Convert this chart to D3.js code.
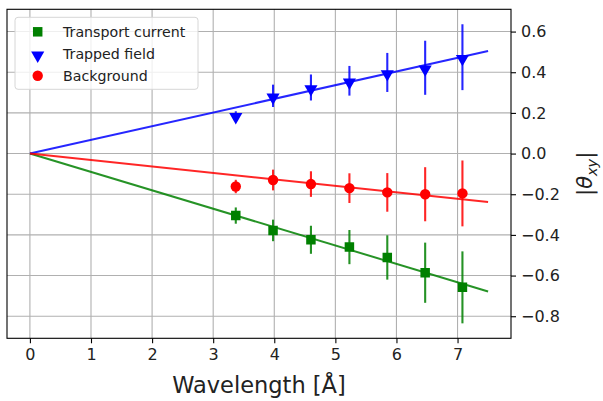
<!DOCTYPE html>
<html>
<head>
<meta charset="utf-8">
<script src="https://cdn.jsdelivr.net/npm/d3@7"></script>
<style>
  body { margin: 0; background: #fff; }
  text { font-family: "DejaVu Sans", sans-serif; }
</style>
</head>
<body>
<svg id="chart"></svg>
<script>
// data
var wavelengths = [3.37, 3.98, 4.60, 5.23, 5.85, 6.47, 7.08];
var transport = [-0.305, -0.378, -0.424, -0.460, -0.511, -0.586, -0.658];
var transportErr = [0.040, 0.053, 0.069, 0.084, 0.109, 0.148, 0.177];
var trapped = [0.188, 0.284, 0.325, 0.358, 0.399, 0.422, 0.474];
var trappedErr = [0.020, 0.055, 0.064, 0.073, 0.096, 0.133, 0.162];
var background = [-0.162, -0.130, -0.150, -0.170, -0.191, -0.200, -0.196];
var backgroundErr = [0.033, 0.051, 0.063, 0.073, 0.095, 0.133, 0.162];
// linear fits through origin
var fitX = [0, 7.5];
var fitSlopes = [-0.0904, 0.0673, -0.0317];
var seriesNames = ["Transport current", "Trapped field", "Background"];
var xTicks = [0, 1, 2, 3, 4, 5, 6, 7];
var yTicks = [-0.8, -0.6, -0.4, -0.2, 0.0, 0.2, 0.4, 0.6];

var W = 603, H = 401;
var box = {left: 7, top: 9.3, right: 511, bottom: 338.3};

var series = [
    {name: seriesNames[0], y: transport, err: transportErr, slope: fitSlopes[0], color: "green", marker: "square"},
    {name: seriesNames[1], y: trapped, err: trappedErr, slope: fitSlopes[1], color: "blue", marker: "tri"},
    {name: seriesNames[2], y: background, err: backgroundErr, slope: fitSlopes[2], color: "red", marker: "circle"}
];

// matplotlib-ish 5% margins
var allY = [];
series.forEach(function (s) {
    s.y.forEach(function (v, i) { allY.push(v - s.err[i], v + s.err[i]); });
    fitX.forEach(function (x) { allY.push(x * s.slope); });
});
var yMin = d3.min(allY), yMax = d3.max(allY);
var yPad = (yMax - yMin) * 0.05;
var xMin = d3.min(fitX), xMax = d3.max(fitX);
var xPad = (xMax - xMin) * 0.05;

var x = d3.scaleLinear().domain([xMin - xPad, xMax + xPad]).range([box.left, box.right]);
var y = d3.scaleLinear().domain([yMin - yPad, yMax + yPad]).range([box.bottom, box.top]);

var svg = d3.select("#chart").attr("width", W).attr("height", H);

// grid
var grid = svg.append("g").attr("class", "grid");
grid.selectAll("line.gx").data(xTicks).enter().append("line")
    .attr("x1", function (d) { return x(d); }).attr("x2", function (d) { return x(d); })
    .attr("y1", box.top).attr("y2", box.bottom)
    .attr("stroke", "#b0b0b0").attr("stroke-width", 1.1);
grid.selectAll("line.gy").data(yTicks).enter().append("line")
    .attr("y1", function (d) { return y(d); }).attr("y2", function (d) { return y(d); })
    .attr("x1", box.left).attr("x2", box.right)
    .attr("stroke", "#b0b0b0").attr("stroke-width", 1.1);

var plot = svg.append("g")
    .attr("clip-path", "url(#clip)");
svg.append("clipPath").attr("id", "clip").append("rect")
    .attr("x", box.left).attr("y", box.top)
    .attr("width", box.right - box.left).attr("height", box.bottom - box.top);

var symbols = {
    square: d3.symbol().type(d3.symbolSquare).size(90),
    circle: d3.symbol().type(d3.symbolCircle).size(85),
    tri: d3.symbol().type(d3.symbolTriangle).size(75)
};

series.forEach(function (s) {
    // fit line
    var line = d3.line().x(function (d) { return x(d); }).y(function (d) { return y(d * s.slope); });
    plot.append("path").datum(fitX)
        .attr("d", line)
        .attr("fill", "none").attr("stroke", s.color).attr("stroke-width", 2).attr("opacity", 0.85);

    var pts = wavelengths.map(function (w, i) { return {x: w, y: s.y[i], e: s.err[i]}; });
    // error bars
    plot.selectAll(null).data(pts).enter().append("line")
        .attr("x1", function (d) { return x(d.x); }).attr("x2", function (d) { return x(d.x); })
        .attr("y1", function (d) { return y(d.y - d.e); }).attr("y2", function (d) { return y(d.y + d.e); })
        .attr("stroke", s.color).attr("stroke-width", 2.1).attr("opacity", 0.85);
    // markers
    plot.selectAll(null).data(pts).enter().append("path")
        .attr("d", symbols[s.marker])
        .attr("transform", function (d) {
            var t = "translate(" + x(d.x) + "," + y(d.y) + ")";
            if (s.marker == "tri") t += " rotate(180) translate(0,-1.5)";
            return t;
        })
        .attr("fill", s.color);
});

// frame
svg.append("rect")
    .attr("x", box.left).attr("y", box.top)
    .attr("width", box.right - box.left).attr("height", box.bottom - box.top)
    .attr("fill", "none").attr("stroke", "#000").attr("stroke-width", 1.1);

// x axis (bottom)
var xAxis = svg.append("g").attr("transform", "translate(0," + box.bottom + ")")
    .call(d3.axisBottom(x).tickValues(xTicks).tickSize(5).tickPadding(5).tickFormat(d3.format("d")));
xAxis.select(".domain").remove();
xAxis.selectAll("line").attr("stroke", "#000").attr("stroke-width", 1.1);
xAxis.selectAll("text").attr("font-size", "16px").attr("fill", "#222");

// y axis on right
var yAxis = svg.append("g").attr("transform", "translate(" + box.right + ",0)")
    .call(d3.axisRight(y).tickValues(yTicks).tickSize(5).tickPadding(5)
        .tickFormat(function (d) { return d3.format(".1f")(d).replace("-", "\u2212"); }));
yAxis.select(".domain").remove();
yAxis.selectAll("line").attr("stroke", "#000").attr("stroke-width", 1.1);
yAxis.selectAll("text").attr("font-size", "16px").attr("fill", "#222");

// axis labels
svg.append("text")
    .attr("x", (box.left + box.right) / 2).attr("y", 393)
    .attr("text-anchor", "middle").attr("font-size", "22.5px").attr("fill", "#222")
    .text("Wavelength [Å]");

var yl = svg.append("text")
    .attr("transform", "translate(592," + (box.top + box.bottom) / 2 + ") rotate(-90)")
    .attr("text-anchor", "middle").attr("font-size", "21px").attr("fill", "#222");
yl.append("tspan").text("|");
yl.append("tspan").attr("font-style", "italic").text("θ");
yl.append("tspan").attr("font-style", "italic").attr("font-size", "14.5px").attr("dy", 5).text("xy");
yl.append("tspan").attr("dy", -5).text("|");

// legend
var lg = svg.append("g").attr("transform", "translate(15,17.3)");
lg.append("rect").attr("width", 183).attr("height", 72).attr("rx", 3)
    .attr("fill", "#fff").attr("fill-opacity", 0.8).attr("stroke", "#d6d6d6").attr("stroke-width", 1);
var items = lg.selectAll("g.item").data(series).enter().append("g")
    .attr("transform", function (d, i) { return "translate(0," + (14.5 + i * 22) + ")"; });
items.append("path")
    .attr("d", function (d) { return symbols[d.marker](); })
    .attr("transform", function (d) {
        return d.marker == "tri" ? "translate(22.7,0) rotate(180) translate(0,-1.5)" : "translate(22.7,0)";
    })
    .attr("fill", function (d) { return d.color; });
items.append("text").attr("x", 48).attr("dy", "0.35em")
    .attr("font-size", "14.2px").attr("fill", "#222")
    .text(function (d) { return d.name; });
</script>
</body>
</html>
